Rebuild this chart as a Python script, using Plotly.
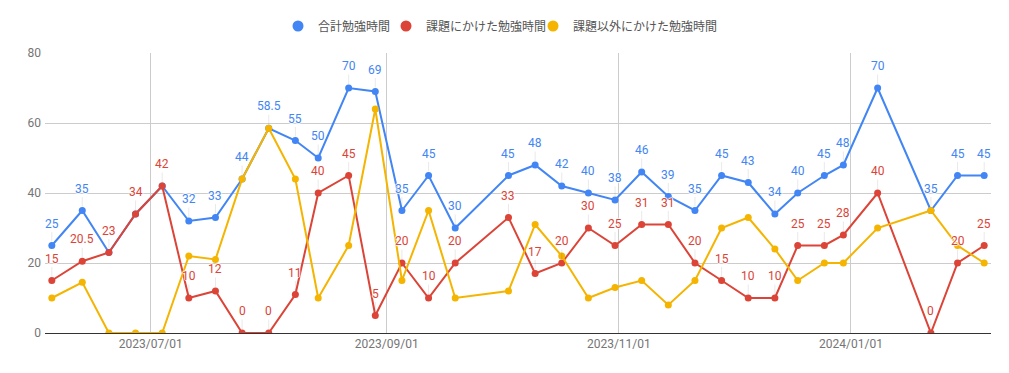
import plotly.graph_objects as go

dates = ["2023-06-05", "2023-06-13", "2023-06-20", "2023-06-27", "2023-07-04", "2023-07-11",
         "2023-07-18", "2023-07-25", "2023-08-01", "2023-08-08", "2023-08-14", "2023-08-22",
         "2023-08-29", "2023-09-05", "2023-09-12", "2023-09-19", "2023-10-03", "2023-10-10",
         "2023-10-17", "2023-10-24", "2023-10-31", "2023-11-07", "2023-11-14", "2023-11-21",
         "2023-11-28", "2023-12-05", "2023-12-12", "2023-12-18", "2023-12-25", "2023-12-30",
         "2024-01-08", "2024-01-22", "2024-01-29", "2024-02-05"]

total = [25, 35, 23, 34, 42, 32, 33, 44, 58.5, 55, 50, 70, 69, 35, 45, 30, 45, 48, 42, 40,
         38, 46, 39, 35, 45, 43, 34, 40, 45, 48, 70, 35, 45, 45]
assignment = [15, 20.5, 23, 34, 42, 10, 12, 0, 0, 11, 40, 45, 5, 20, 10, 20, 33, 17, 20, 30,
              25, 31, 31, 20, 15, 10, 10, 25, 25, 28, 40, 0, 20, 25]
other = [10, 14.5, 0, 0, 0, 22, 21, 44, 58.5, 44, 10, 25, 64, 15, 35, 10, 12, 31, 22, 10,
         13, 15, 8, 15, 30, 33, 24, 15, 20, 20, 30, 35, 25, 20]

names = ["合計勉強時間", "課題にかけた勉強時間", "課題以外にかけた勉強時間"]
colors = ["#4285F4", "#DB4437", "#F4B400"]
xticks = ["2023-07-01", "2023-09-01", "2023-11-01", "2024-01-01"]
yticks = [0, 20, 40, 60, 80]

FONT = "Roboto, 'Noto Sans CJK JP', sans-serif"
HALO = "1px 0px 1px #fff, -1px 0px 1px #fff, 0px 1px 1px #fff, 0px -1px 1px #fff"
W, H = 1009, 373

fig = go.Figure()
for name, vals, col in zip(names, [total, assignment, other], colors):
    fig.add_trace(go.Scatter(
        x=dates, y=vals, mode="lines+markers", name=name, showlegend=False,
        line=dict(color=col, width=2), marker=dict(color=col, size=7),
        hoverinfo="skip"))

legend_ids = ["legend", "legend2", "legend3"]
legend_left = [278, 386, 533]
for name, col, lid in zip(names, colors, legend_ids):
    fig.add_trace(go.Scatter(x=[None], y=[None], mode="markers", name=name, legend=lid,
                             marker=dict(color=col, size=11)))

annotations = []
def fmt(v):
    return str(int(v)) if float(v).is_integer() else str(v)

def label(d, v, col):
    return dict(x=d, y=v, text=fmt(v), showarrow=True, arrowhead=0,
                ax=0, ay=-22, arrowwidth=1, arrowcolor="rgba(0,0,0,0.08)",
                standoff=4, font=dict(family=FONT, size=12, color=col, shadow=HALO))

for d, t, a in zip(dates, total, assignment):
    if t != a:
        annotations.append(label(d, t, colors[0]))
    annotations.append(label(d, a, colors[1]))

legend_style = dict(orientation="h", xref="container", yref="container",
                    xanchor="left", y=1 - 26 / H, yanchor="middle",
                    font=dict(family=FONT, size=12, color="#555555"),
                    bgcolor="rgba(0,0,0,0)")

fig.update_layout(
    width=W, height=H,
    margin=dict(l=45, r=18, t=53, b=40, autoexpand=False),
    paper_bgcolor="white", plot_bgcolor="white",
    font=dict(family=FONT, size=12, color="#757575"),
    annotations=annotations,
    legend=dict(legend_style, x=legend_left[0] / W),
    legend2=dict(legend_style, x=legend_left[1] / W),
    legend3=dict(legend_style, x=legend_left[2] / W),
    xaxis=dict(type="date", range=["2023-06-03 05:00", "2024-02-06 19:00"],
               tickvals=xticks, tickformat="%Y/%m/%d",
               showgrid=True, gridcolor="#cccccc", gridwidth=1,
               showline=False, zeroline=False, ticks="", ticklabelstandoff=2,
               tickfont=dict(family=FONT, size=12, color="#757575")),
    yaxis=dict(range=[0, 80], tickvals=yticks, showgrid=True, gridcolor="#cccccc",
               gridwidth=1, zeroline=True, zerolinecolor="#333333", zerolinewidth=1,
               showline=False, ticks="", ticklabelstandoff=3,
               tickfont=dict(family=FONT, size=12, color="#757575")),
    hovermode=False,
)

fig.write_html("out.html", config={"displayModeBar": False},
               post_script="document.body.style.margin='0';")
